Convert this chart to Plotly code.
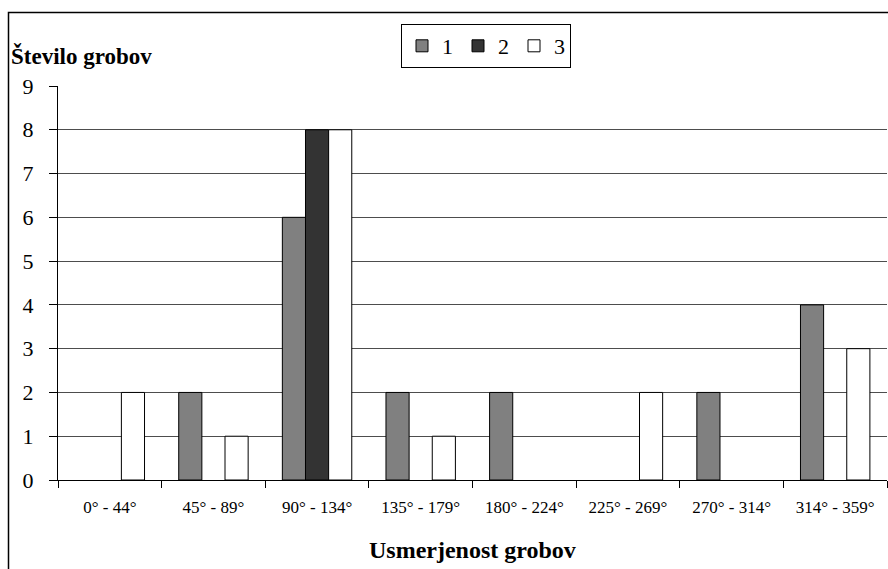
import plotly.graph_objects as go

categories = ["0° - 44°", "45° - 89°", "90° - 134°", "135° - 179°",
              "180° - 224°", "225° - 269°", "270° - 314°", "314° - 359°"]
series_names = ["1", "2", "3"]
series1 = [0, 2, 6, 2, 2, 0, 2, 4]
series2 = [0, 0, 8, 0, 0, 0, 0, 0]
series3 = [2, 1, 8, 1, 0, 2, 0, 3]
y_ticks = [0, 1, 2, 3, 4, 5, 6, 7, 8, 9]

colors = ["#808080", "#333333", "#ffffff"]
FONT = "Liberation Serif"

fig = go.Figure()
for name, vals, col in zip(series_names, [series1, series2, series3], colors):
    fig.add_trace(go.Bar(
        x=categories, y=[v if v else None for v in vals], name=name,
        marker=dict(color=col, line=dict(color="#000000", width=1)),
    ))

W, H = 888, 569
ml, mr, mt, mb = 58, 1, 86, 89
pw, ph = W - ml - mr, H - mt - mb

def px_x(p):
    return (p - ml) / pw

def px_y(p):
    return (H - mb - p) / ph

fig.update_layout(
    width=W, height=H,
    margin=dict(l=ml, r=mr, t=mt, b=mb, pad=0),
    paper_bgcolor="white", plot_bgcolor="white",
    barmode="group", bargap=0.33, bargroupgap=0,
    font=dict(family=FONT, color="#000000"),
    showlegend=True,
    legend=dict(
        orientation="h", x=px_x(486), y=px_y(24), xanchor="center", yanchor="top",
        bordercolor="#000000", borderwidth=1, bgcolor="white",
        font=dict(size=22, family=FONT), itemwidth=30, tracegroupgap=0,
    ),
    xaxis=dict(
        type="category", tickson="boundaries", ticks="outside", ticklen=7,
        tickcolor="#000000", showline=True, linecolor="#000000", linewidth=1,
        showgrid=False, tickfont=dict(size=17, family=FONT), ticklabelstandoff=12,
    ),
    yaxis=dict(
        range=[0, 9], tickvals=y_ticks, ticks="outside", ticklen=8,
        tickcolor="#000000", showline=True, linecolor="#000000", linewidth=1,
        showgrid=True, gridcolor="#4d4d4d", gridwidth=1,
        zeroline=True, zerolinecolor="#000000", zerolinewidth=1,
        tickfont=dict(size=22, family=FONT), ticklabelstandoff=11,
    ),
    annotations=[
        dict(text="<b>Število grobov</b>", xref="paper", yref="paper",
             x=px_x(9), y=px_y(56), xanchor="left", yanchor="middle",
             showarrow=False, font=dict(size=23, family=FONT)),
        dict(text="<b>Usmerjenost grobov</b>", xref="paper", yref="paper",
             x=px_x(472), y=px_y(550), xanchor="center", yanchor="middle",
             showarrow=False, font=dict(size=24, family=FONT)),
    ],
    shapes=[
        dict(type="rect", xref="paper", yref="paper",
             x0=px_x(8.5), x1=px_x(895), y0=px_y(580), y1=px_y(12.5),
             line=dict(color="#000000", width=1.5), fillcolor="rgba(0,0,0,0)",
             layer="below"),
    ],
)

fig.write_html("out.html", config={"displayModeBar": False},
               post_script="document.body.style.margin='0';document.body.style.padding='0';")
